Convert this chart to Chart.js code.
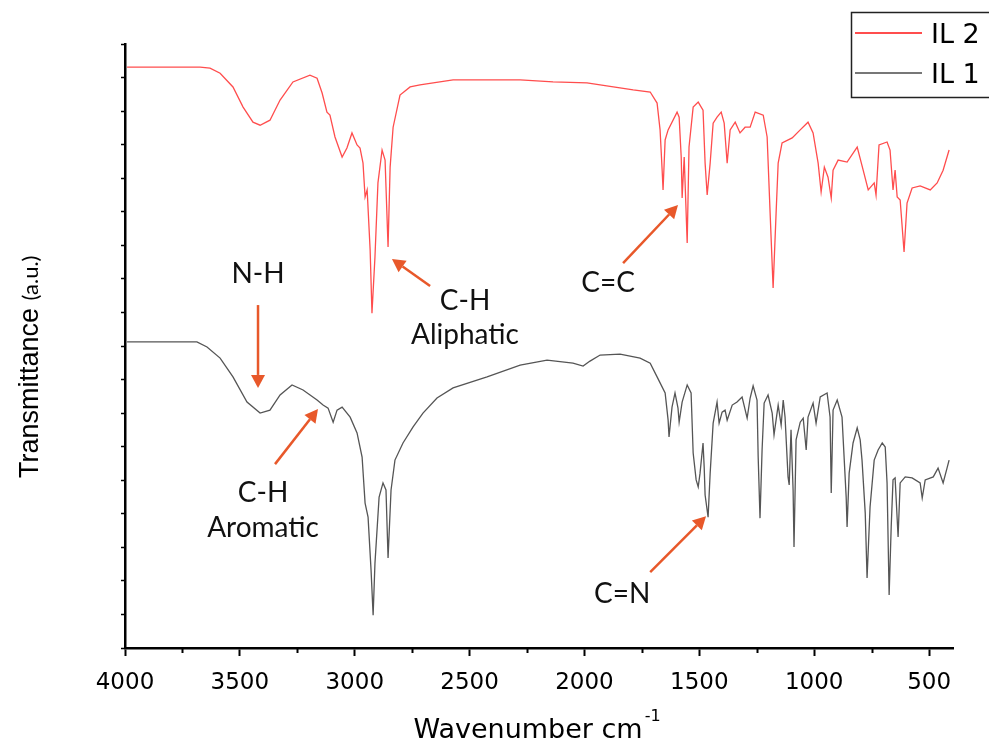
<!DOCTYPE html>
<html>
<head>
<meta charset="utf-8">
<script src="https://cdn.jsdelivr.net/npm/chart.js@4/dist/chart.umd.min.js"></script>
<style>
  body { margin: 0; background: #fff; }
  #wrap { width: 989px; height: 744px; }
</style>
</head>
<body>
<div id="wrap"><canvas id="ftir" width="989" height="744"></canvas></div>
<script>
// wavenumbers (cm-1) and transmittance (a.u.)
const wnIL2 = [3991, 3673, 3630, 3586, 3530, 3486, 3443, 3412, 3369, 3325, 3269, 3195, 3164, 3142, 3121, 3108,
  3086, 3055, 3034, 3012, 2990, 2977, 2964, 2955, 2946, 2933, 2925, 2912, 2899, 2881, 2868, 2855, 2846, 2833,
  2803, 2759, 2716, 2572, 2280, 2137, 1989, 1932, 1788, 1714, 1684, 1671, 1662, 1658, 1649, 1636, 1597, 1588,
  1579, 1575, 1566, 1553, 1545, 1527, 1505, 1484, 1475, 1466, 1453, 1440, 1423, 1405, 1392, 1379, 1366, 1344,
  1323, 1301, 1279, 1257, 1222, 1205, 1192, 1179, 1166, 1157, 1140, 1096, 1061, 1027, 1005, 983, 970, 956,
  940, 926, 918, 896, 857, 813, 787, 765, 739, 731, 718, 683, 670, 657, 648, 639, 626, 609, 596, 574, 539,
  495, 465, 439, 413];
const tIL2 = [1.731, 1.731, 1.728, 1.713, 1.672, 1.612, 1.567, 1.558, 1.573, 1.633, 1.687, 1.707, 1.698, 1.654, 1.597, 1.588,
  1.523, 1.463, 1.490, 1.535, 1.499, 1.490, 1.445, 1.344, 1.365, 1.186, 0.998, 1.165, 1.386, 1.484, 1.454, 1.195, 1.433, 1.552,
  1.648, 1.672, 1.678, 1.693, 1.693, 1.687, 1.684, 1.678, 1.663, 1.657, 1.624, 1.544, 1.424, 1.365, 1.514, 1.544, 1.597, 1.582,
  1.463, 1.341, 1.463, 1.207, 1.493, 1.612, 1.627, 1.603, 1.445, 1.350, 1.445, 1.564, 1.582, 1.597, 1.564, 1.445, 1.544, 1.567,
  1.535, 1.552, 1.552, 1.597, 1.588, 1.523, 1.296, 1.073, 1.296, 1.445, 1.505, 1.520, 1.544, 1.567, 1.535, 1.445, 1.359, 1.433,
  1.403, 1.341, 1.424, 1.454, 1.448, 1.493, 1.424, 1.365, 1.386, 1.350, 1.499, 1.508, 1.484, 1.365, 1.424, 1.344, 1.335, 1.180, 1.326, 1.371, 1.377,
  1.365, 1.386, 1.424, 1.484];

const wnIL1 = [3991, 3687, 3643, 3586, 3530, 3469, 3412, 3369, 3325, 3273, 3225, 3164, 3138, 3116, 3094, 3077,
  3055, 3020, 2990, 2968, 2955, 2942, 2929, 2920, 2912, 2894, 2877, 2864, 2855, 2842, 2825, 2790, 2746, 2703,
  2642, 2572, 2424, 2280, 2163, 2050, 2006, 1976, 1932, 1845, 1758, 1714, 1684, 1649, 1636, 1632, 1619, 1606,
  1593, 1588, 1575, 1553, 1536, 1527, 1514, 1505, 1497, 1484, 1479, 1475, 1462, 1453, 1440, 1423, 1414, 1401,
  1388, 1379, 1357, 1336, 1314, 1292, 1279, 1266, 1249, 1244, 1236, 1227, 1218, 1201, 1183, 1175, 1157, 1144,
  1135, 1127, 1114, 1109, 1101, 1092, 1088, 1079, 1061, 1048, 1035, 1027, 1005, 992, 974, 944, 931, 926, 918,
  900, 879, 861, 857, 848, 831, 813, 800, 792, 778, 770, 757, 739, 722, 704, 691, 683, 674, 665, 657, 648,
  635, 626, 604, 574, 539, 530, 517, 482, 461, 439, 422, 413];
const tIL1 = [0.912, 0.912, 0.897, 0.864, 0.808, 0.733, 0.700, 0.709, 0.754, 0.784, 0.769, 0.739, 0.724, 0.715, 0.673, 0.709,
  0.718, 0.688, 0.641, 0.569, 0.432, 0.390, 0.232, 0.098, 0.253, 0.450, 0.492, 0.471, 0.268, 0.471, 0.560, 0.611, 0.659, 0.700,
  0.745, 0.775, 0.808, 0.843, 0.858, 0.849, 0.840, 0.855, 0.873, 0.876, 0.864, 0.849, 0.808, 0.760, 0.679, 0.629, 0.718, 0.760,
  0.715, 0.673, 0.733, 0.784, 0.760, 0.581, 0.501, 0.480, 0.521, 0.611, 0.539, 0.456, 0.390, 0.521, 0.670, 0.733, 0.670, 0.703,
  0.709, 0.679, 0.724, 0.733, 0.748, 0.685, 0.745, 0.781, 0.739, 0.569, 0.387, 0.590, 0.730, 0.754, 0.700, 0.635, 0.724, 0.664,
  0.739, 0.688, 0.510, 0.486, 0.650, 0.471, 0.301, 0.620, 0.673, 0.685, 0.590, 0.688, 0.730, 0.670, 0.748, 0.760, 0.688, 0.462, 0.709,
  0.739, 0.688, 0.450, 0.361, 0.521, 0.611, 0.656, 0.620, 0.560, 0.402, 0.209, 0.420, 0.560, 0.590, 0.611, 0.599, 0.492, 0.158, 0.361, 0.501, 0.507,
  0.331, 0.492, 0.510, 0.507, 0.492, 0.447, 0.501, 0.510, 0.536, 0.492, 0.536, 0.560];

const seriesLabels = ["IL 2", "IL 1"];
const xMajorTicks = [4000, 3500, 3000, 2500, 2000, 1500, 1000, 500];
const xMinorTicks = [3750, 3250, 2750, 2250, 1750, 1250, 750];

// band labels and arrows, in data units (wavenumber, transmittance)
const notes = [
  { lines: ["N-H"], wn: 3421, t: [1.088] },
  { lines: ["C-H", "Aliphatic"], wn: 2520, t: [1.007, 0.906] },
  { lines: ["C=C"], wn: 1897, t: [1.061] },
  { lines: ["C-H", "Aromatic"], wn: 3399, t: [0.435, 0.331] },
  { lines: ["C=N"], wn: 1836, t: [0.134] }
];
const arrows = [
  { from: [3421, 1.022], to: [3421, 0.775] },
  { from: [2672, 1.079], to: [2838, 1.159] },
  { from: [1832, 1.147], to: [1593, 1.320] },
  { from: [3347, 0.548], to: [3160, 0.712] },
  { from: [1714, 0.226], to: [1471, 0.393] }
];

const orange = "#e8582a";

function toPoints(xs, ys) {
  return xs.map((x, i) => ({ x: x, y: ys[i] }));
}

// draws titles, minor ticks, notes and the legend
const extras = {
  id: "extras",
  afterDraw(chart) {
    const ctx = chart.ctx;
    const xs = chart.scales.x;
    const ys = chart.scales.y;
    const area = chart.chartArea;

    ctx.save();

    // minor ticks on x
    ctx.strokeStyle = "#000";
    ctx.lineWidth = 2;
    xMinorTicks.forEach(v => {
      const px = Math.round(xs.getPixelForValue(v)) + 0.5;
      ctx.beginPath();
      ctx.moveTo(px, area.bottom);
      ctx.lineTo(px, area.bottom + 5);
      ctx.stroke();
    });

    // x title with superscript
    ctx.fillStyle = "#000";
    ctx.textBaseline = "alphabetic";
    ctx.font = "27px 'DejaVu Sans'";
    const main = "Wavenumber cm";
    const wMain = ctx.measureText(main).width;
    ctx.font = "16px 'DejaVu Sans'";
    const wSup = ctx.measureText("-1").width;
    const startX = 537 - (wMain + wSup + 2) / 2;
    ctx.font = "27px 'DejaVu Sans'";
    ctx.textAlign = "left";
    ctx.fillText(main, startX, 738);
    ctx.font = "16px 'DejaVu Sans'";
    ctx.fillText("-1", startX + wMain + 2, 721);

    // y title
    ctx.save();
    ctx.translate(38, 478);
    ctx.rotate(-Math.PI / 2);
    ctx.font = "27px 'Liberation Sans'";
    ctx.fillText("Transmittance", 0, 0);
    const wT = ctx.measureText("Transmittance ").width;
    ctx.font = "22px Lato";
    ctx.fillText("(a.u.)", wT, 0);
    ctx.restore();

    // arrows
    ctx.strokeStyle = orange;
    ctx.fillStyle = orange;
    ctx.lineWidth = 2.5;
    arrows.forEach(a => {
      const x1 = xs.getPixelForValue(a.from[0]), y1 = ys.getPixelForValue(a.from[1]);
      const x2 = xs.getPixelForValue(a.to[0]), y2 = ys.getPixelForValue(a.to[1]);
      const ang = Math.atan2(y2 - y1, x2 - x1);
      const head = 13;
      const bx = x2 - head * Math.cos(ang), by = y2 - head * Math.sin(ang);
      ctx.beginPath();
      ctx.moveTo(x1, y1);
      ctx.lineTo(bx, by);
      ctx.stroke();
      ctx.beginPath();
      ctx.moveTo(x2, y2);
      ctx.lineTo(bx + 7 * Math.sin(ang), by - 7 * Math.cos(ang));
      ctx.lineTo(bx - 7 * Math.sin(ang), by + 7 * Math.cos(ang));
      ctx.closePath();
      ctx.fill();
    });

    // note texts
    ctx.fillStyle = "#111";
    ctx.font = "28px Lato";
    ctx.textAlign = "center";
    notes.forEach(n => {
      const px = xs.getPixelForValue(n.wn);
      n.lines.forEach((txt, i) => {
        ctx.fillText(txt, px, ys.getPixelForValue(n.t[i]));
      });
    });

    // legend box
    ctx.strokeStyle = "#222";
    ctx.lineWidth = 1.5;
    ctx.strokeRect(851.5, 12.5, 200, 85);
    ctx.font = "27px 'DejaVu Sans'";
    ctx.textAlign = "left";
    ctx.fillStyle = "#000";
    chart.data.datasets.forEach((ds, i) => {
      const y = 33 + i * 40;
      ctx.strokeStyle = i === 0 ? ds.borderColor : "#777";
      ctx.lineWidth = 2;
      ctx.beginPath();
      ctx.moveTo(855, y);
      ctx.lineTo(922, y);
      ctx.stroke();
      ctx.fillText(ds.label, 931, y + 10);
    });

    ctx.restore();
  }
};

new Chart(document.getElementById("ftir"), {
  type: "line",
  data: {
    datasets: [
      {
        label: seriesLabels[0],
        data: toPoints(wnIL2, tIL2),
        borderColor: "#ff4d4d",
        borderWidth: 1.3,
        pointRadius: 0,
        tension: 0
      },
      {
        label: seriesLabels[1],
        data: toPoints(wnIL1, tIL1),
        borderColor: "#555",
        borderWidth: 1.3,
        pointRadius: 0,
        tension: 0
      }
    ]
  },
  options: {
    responsive: false,
    animation: false,
    devicePixelRatio: 1,
    layout: { padding: { top: 44, right: 36, left: 0, bottom: 0 } },
    plugins: {
      legend: { display: false },
      tooltip: { enabled: false }
    },
    scales: {
      x: {
        type: "linear",
        reverse: true,
        min: 396,
        max: 4000,
        afterBuildTicks(scale) {
          scale.ticks = xMajorTicks.map(v => ({ value: v }));
        },
        afterFit(scale) { scale.height = 96; },
        ticks: {
          autoSkip: false,
          maxRotation: 0,
          padding: 13,
          color: "#000",
          font: { family: "'DejaVu Sans'", size: 23 },
          callback: v => String(v)
        },
        grid: {
          drawOnChartArea: false,
          drawTicks: true,
          tickLength: 8,
          tickColor: "#000",
          tickWidth: 2
        },
        border: { display: true, color: "#000", width: 2.5 }
      },
      y: {
        type: "linear",
        min: 0,
        max: 1.8,
        afterFit(scale) { scale.width = 125; },
        ticks: {
          stepSize: 0.1,
          autoSkip: false,
          callback: () => ""
        },
        grid: {
          drawOnChartArea: false,
          drawTicks: true,
          tickLength: 4,
          tickColor: "#000",
          tickWidth: 1.5
        },
        border: { display: true, color: "#000", width: 2.5 }
      }
    }
  },
  plugins: [extras]
});
</script>
</body>
</html>
